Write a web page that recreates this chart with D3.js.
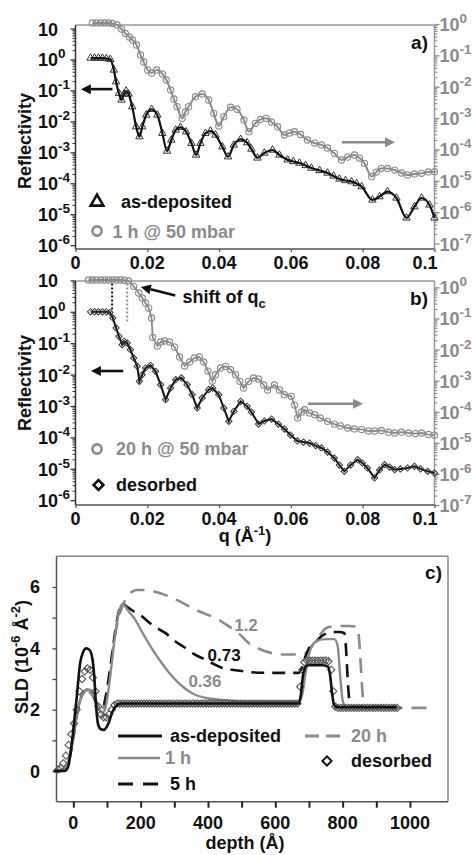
<!DOCTYPE html>
<html><head><meta charset="utf-8">
<script src="https://cdnjs.cloudflare.com/ajax/libs/d3/7.8.5/d3.min.js"></script>
<style>
html,body{margin:0;padding:0;background:#fff;}
svg{display:block;font-family:"Liberation Sans",Arial,Helvetica,sans-serif;font-weight:bold;}
</style></head><body>
<svg id="chart" width="472" height="855"></svg>
<script>
// ===== Panel a: [q (1/Å), reflectivity] =====
const asDeposited = [[0.0042,1.11],[0.0053,1.11],[0.0064,1.11],[0.0075,1.11],[0.0086,1.07],[0.0097,1.01],[0.0107,0.457],[0.0113,0.191],[0.0121,0.0807],[0.0128,0.0491],[0.0135,0.0766],[0.0141,0.0957],[0.0148,0.0766],[0.0158,0.0298],[0.0169,0.00673],[0.0178,0.0032],[0.0186,0.00673],[0.0197,0.0161],[0.0212,0.0245],[0.0228,0.0161],[0.0242,0.00412],[0.0255,0.0011],[0.0267,0.0025],[0.0279,0.00527],[0.0292,0.00644],[0.0308,0.00464],[0.0323,0.00196],[0.0336,0.00082],[0.0348,0.00196],[0.0362,0.00412],[0.0376,0.00489],[0.0390,0.00363],[0.0409,0.00152],[0.0425,0.00072],[0.0441,0.00173],[0.0460,0.00264],[0.0478,0.00205],[0.0490,0.00128],[0.0507,0.00066],[0.0526,0.00095],[0.0549,0.00119],[0.0568,0.00082],[0.0591,0.00057],[0.0607,0.000506],[0.0624,0.00045],[0.0641,0.000376],[0.0657,0.00031],[0.0680,0.000259],[0.0702,0.000215],[0.0719,0.000172],[0.0735,0.000138],[0.0752,0.000123],[0.0769,0.000113],[0.0783,0.0000986],[0.0797,0.000078],[0.0827,0.000029],[0.0847,0.000037],[0.0869,0.000054],[0.0894,0.0000335],[0.0922,0.0000076],[0.0944,0.0000175],[0.0964,0.0000335],[0.0986,0.00002],[0.1000,0.0000076]];
const oneHour50mbar = [[0.0047,1.08],[0.0058,1.08],[0.0070,1.08],[0.0081,1.08],[0.0092,1.08],[0.0103,1.04],[0.0116,0.93],[0.0128,0.69],[0.0139,0.50],[0.0150,0.385],[0.0159,0.309],[0.0170,0.214],[0.0181,0.103],[0.0190,0.0614],[0.0201,0.0341],[0.0212,0.0274],[0.0226,0.0341],[0.0242,0.0255],[0.0253,0.0164],[0.0265,0.00786],[0.0274,0.00406],[0.0283,0.00231],[0.0297,0.00098],[0.0306,0.00156],[0.0315,0.00231],[0.0334,0.00481],[0.0353,0.00586],[0.0371,0.00377],[0.0385,0.00142],[0.0399,0.000558],[0.0413,0.00111],[0.0432,0.00221],[0.0450,0.00191],[0.0469,0.00087],[0.0483,0.000368],[0.0501,0.000682],[0.0515,0.000901],[0.0531,0.00098],[0.0546,0.00075],[0.0563,0.00053],[0.0582,0.000289],[0.0596,0.000334],[0.0610,0.000368],[0.0627,0.000299],[0.0646,0.0002],[0.0666,0.00016],[0.0685,0.000139],[0.0702,0.000111],[0.0721,0.000075],[0.0741,0.000046],[0.0758,0.000057],[0.0777,0.0000665],[0.0791,0.000053],[0.0805,0.000036],[0.0825,0.0000135],[0.0838,0.000019],[0.0852,0.000025],[0.0869,0.0000247],[0.0889,0.000022],[0.0908,0.0000177],[0.0925,0.0000153],[0.0944,0.0000165],[0.0964,0.0000173],[0.0983,0.0000191],[0.1000,0.0000195]];
// ===== Panel b =====
const twentyHour50mbar = [[0.0036,1.73],[0.0047,1.73],[0.0058,1.73],[0.0070,1.73],[0.0081,1.73],[0.0092,1.73],[0.0103,1.73],[0.0114,1.73],[0.0125,1.73],[0.0136,1.7],[0.0148,1.61],[0.0162,1.08],[0.0176,0.66],[0.0186,0.456],[0.0195,0.315],[0.0204,0.217],[0.0212,0.1036],[0.0215,0.0248],[0.0228,0.01303],[0.0237,0.0175],[0.0248,0.01885],[0.0262,0.0175],[0.0276,0.01208],[0.0290,0.00576],[0.0304,0.00296],[0.0318,0.00398],[0.0331,0.00535],[0.0345,0.00576],[0.0357,0.00398],[0.0369,0.00204],[0.0381,0.00097],[0.0390,0.00155],[0.0404,0.00255],[0.0418,0.00289],[0.0432,0.00225],[0.0446,0.00155],[0.0458,0.00095],[0.0468,0.00058],[0.0482,0.00095],[0.0496,0.00122],[0.0510,0.00113],[0.0524,0.000724],[0.0535,0.0005],[0.0554,0.000724],[0.0568,0.0005],[0.0582,0.000353],[0.0601,0.000313],[0.0610,0.000164],[0.0619,0.000063],[0.0630,0.000098],[0.0638,0.000116],[0.0652,0.000091],[0.0666,0.00008],[0.0682,0.000063],[0.0702,0.000049],[0.0721,0.00004],[0.0738,0.000035],[0.0758,0.00003],[0.0777,0.000028],[0.0797,0.000027],[0.0816,0.000024],[0.0833,0.000024],[0.0852,0.000025],[0.0872,0.000022],[0.0889,0.0000207],[0.0908,0.000022],[0.0928,0.0000207],[0.0947,0.0000199],[0.0964,0.0000207],[0.0983,0.0000185],[0.1000,0.0000178]];
const desorbed = [[0.0042,1.0],[0.0053,1.0],[0.0064,1.0],[0.0075,1.0],[0.0086,1.0],[0.0096,0.95],[0.0104,0.635],[0.0113,0.305],[0.0121,0.166],[0.0130,0.0896],[0.0135,0.115],[0.0144,0.1014],[0.0153,0.0621],[0.0162,0.0338],[0.0172,0.01837],[0.0178,0.00612],[0.0186,0.00993],[0.0195,0.01622],[0.0209,0.01977],[0.0223,0.01274],[0.0237,0.00477],[0.0251,0.00159],[0.0265,0.00374],[0.0279,0.00689],[0.0295,0.0078],[0.0311,0.00477],[0.0325,0.00229],[0.0339,0.000864],[0.0353,0.0018],[0.0371,0.0033],[0.0382,0.00374],[0.0399,0.00229],[0.0413,0.000864],[0.0427,0.000326],[0.0441,0.000678],[0.0460,0.00141],[0.0478,0.00098],[0.0490,0.000644],[0.0510,0.000267],[0.0526,0.000333],[0.0546,0.000385],[0.0565,0.000267],[0.0582,0.000185],[0.0599,0.000119],[0.0618,0.000077],[0.0635,0.000071],[0.0652,0.000066],[0.0669,0.000055],[0.0685,0.000046],[0.0702,0.000034],[0.0721,0.000022],[0.0735,0.0000132],[0.0749,0.0000083],[0.0766,0.0000132],[0.0786,0.0000195],[0.0799,0.0000153],[0.0813,0.0000106],[0.0833,0.0000051],[0.0847,0.0000092],[0.0861,0.0000135],[0.0875,0.0000114],[0.0889,0.0000094],[0.0905,0.0000099],[0.0925,0.0000106],[0.0944,0.000012],[0.0961,0.0000099],[0.0981,0.0000083],[0.1000,0.0000073]];
const qcDesorbed = 0.0102, qc20h = 0.0144;
// ===== Panel c: [depth (Å), SLD (1e-6 Å^-2)] =====
const sldAsDeposited = [[-58,0],[-25,0],[-15,0.15],[-8,0.6],[0,1.35],[10,2.4],[20,3.5],[30,3.9],[38,4.0],[48,3.95],[56,3.7],[62,3.1],[67,2.2],[74,1.5],[82,1.36],[90,1.34],[98,1.42],[106,1.6],[115,1.9],[125,2.1],[140,2.2],[160,2.2],[670,2.2],[676,2.5],[682,3.1],[690,3.4],[700,3.45],[740,3.45],[757,3.4],[763,3.1],[769,2.5],[775,2.15],[785,2.08],[960,2.08]];
const sld1h = [[-58,0],[-40,0],[-30,0.05],[-20,0.2],[-10,0.5],[0,1.1],[10,1.8],[20,2.3],[30,2.55],[40,2.65],[50,2.65],[60,2.5],[70,2.2],[80,1.95],[88,1.9],[96,2.1],[105,2.7],[115,3.6],[125,4.5],[135,5.15],[145,5.45],[155,5.35],[165,5.2],[183,4.95],[203,4.55],[223,4.18],[243,3.83],[262,3.53],[282,3.24],[302,2.99],[322,2.78],[342,2.61],[365,2.47],[391,2.39],[441,2.32],[500,2.27],[670,2.25],[680,2.5],[690,3.2],[700,3.8],[710,4.1],[725,4.25],[750,4.3],[775,4.3],[785,4.1],[792,3.2],[800,2.3],[810,2.1],[960,2.1]];
const sld5h = [[-58,0],[-40,0],[-30,0.05],[-20,0.2],[-10,0.5],[0,1.1],[10,1.8],[20,2.3],[30,2.55],[40,2.65],[50,2.6],[60,2.45],[70,2.2],[80,2.0],[88,2.05],[96,2.4],[105,3.0],[115,3.8],[125,4.6],[135,5.2],[145,5.45],[160,5.35],[180,5.2],[203,5.05],[230,4.8],[250,4.65],[272,4.51],[300,4.25],[332,4.02],[360,3.8],[391,3.64],[415,3.5],[441,3.37],[470,3.3],[500,3.26],[525,3.22],[600,3.2],[670,3.2],[680,3.4],[690,3.75],[700,4.0],[718,4.18],[738,4.4],[755,4.5],[770,4.53],[790,4.53],[805,4.5],[810,4.0],[815,3.0],[820,2.3],[826,2.1],[960,2.1]];
const sld20h = [[-58,0],[-40,0],[-30,0.05],[-20,0.2],[-10,0.5],[0,1.1],[10,1.8],[20,2.3],[30,2.55],[40,2.6],[50,2.55],[60,2.4],[70,2.15],[80,2.0],[88,2.05],[96,2.4],[105,3.0],[115,3.8],[125,4.5],[135,5.0],[145,5.35],[155,5.6],[165,5.75],[175,5.85],[190,5.9],[210,5.9],[240,5.85],[270,5.75],[302,5.6],[330,5.45],[361,5.27],[390,5.13],[421,5.0],[460,4.73],[490,4.5],[525,4.13],[555,3.97],[584,3.86],[615,3.8],[644,3.8],[670,3.82],[693,3.86],[710,4.1],[730,4.4],[753,4.67],[775,4.72],[801,4.73],[820,4.73],[842,4.7],[848,4.4],[853,3.6],[858,2.7],[862,2.2],[870,2.06],[1075,2.06]];
const sldDesorbed = [[-45,0.05],[-38,0.1],[-30,0.25],[-22,0.5],[-14,0.85],[-6,1.2],[2,1.55],[10,2.0],[18,2.6],[26,3.0],[34,3.25],[42,3.35],[50,3.3],[58,3.05],[66,2.6],[74,2.1],[82,1.85],[90,1.75],[98,1.75],[106,1.85],[114,2.0],[122,2.15],
[130,2.2],[138,2.2],[146,2.2],[154,2.2],[162,2.2],[170,2.2],[178,2.2],[186,2.2],[194,2.2],[202,2.2],[210,2.2],[218,2.2],[226,2.2],[234,2.2],[242,2.2],[250,2.2],[258,2.2],[266,2.2],[274,2.2],[282,2.2],[290,2.2],[298,2.2],[306,2.2],[314,2.2],[322,2.2],[330,2.2],[338,2.2],[346,2.2],[354,2.2],[362,2.2],[370,2.2],[378,2.2],[386,2.2],[394,2.2],[402,2.2],[410,2.2],[418,2.2],[426,2.2],[434,2.2],[442,2.2],[450,2.2],[458,2.2],[466,2.2],[474,2.2],[482,2.2],[490,2.2],[498,2.2],[506,2.2],[514,2.2],[522,2.2],[530,2.2],[538,2.2],[546,2.2],[554,2.2],[562,2.2],[570,2.2],[578,2.2],[586,2.2],[594,2.2],[602,2.2],[610,2.2],[618,2.2],[626,2.2],[634,2.2],[642,2.2],[650,2.2],[658,2.2],[666,2.2],
[674,2.75],[680,3.3],[686,3.55],[694,3.6],[702,3.6],[710,3.6],[718,3.6],[726,3.6],[734,3.6],[742,3.6],[750,3.6],[758,3.58],[766,3.3],[772,2.6],
[778,2.1],[786,2.06],[794,2.06],[802,2.06],[810,2.06],[818,2.06],[826,2.06],[834,2.06],[842,2.06],[850,2.06],[858,2.06],[866,2.06],[874,2.06],[882,2.06],[890,2.06],[898,2.06],[906,2.06],[914,2.06],[922,2.06],[930,2.06],[938,2.06],[946,2.06],[954,2.06],[962,2.06]];
const sldLabels = [{t:"1.2",d:513,v:4.76,c:"gray"},{t:"0.73",d:448,v:3.78,c:"black"},{t:"0.36",d:391,v:2.93,c:"gray"}];
// ===== Tick definitions =====
const qTicks = [0,0.02,0.04,0.06,0.08,0.1];
const qTickLabels = ["0","0.02","0.04","0.06","0.08","0.1"];
const leftDecades = [1,0,-1,-2,-3,-4,-5,-6];
const rightDecades = [0,-1,-2,-3,-4,-5,-6,-7];
const depthTicks = [0,200,400,600,800,1000];
const depthMinorTicks = [0,100,200,300,400,500,600,700,800,900,1000];
const sldTicks = [0,2,4,6];
const sldMinorTicks = [0,1,2,3,4,5,6];

const BLACK = "#111", GRAY = "#8a8a8a";
const svg = d3.select("#chart");

const xQ = d3.scaleLinear().domain([0,0.1]).range([75.5,434.5]);
const yAL = d3.scaleLog().domain([1e-6,10]).range([245.2,28.5]);
const yAR = d3.scaleLog().domain([1e-7,1]).range([243.5,24]);
const yBL = d3.scaleLog().domain([1e-6,10]).range([500.2,280.4]);
const yBR = d3.scaleLog().domain([1e-7,1]).range([505,287.4]);
const xD = d3.scaleLinear().domain([-50,1113]).range([56.5,448]);
const yS = d3.scaleLinear().domain([-1,7]).range([801.7,556.3]);

function supText(g, x, y, parts, opt={}) {
  const t = g.append("text").attr("x",x).attr("y",y)
    .attr("font-size",opt.size||18).attr("fill",opt.fill||BLACK)
    .attr("text-anchor",opt.anchor||"start");
  if (opt.transform) t.attr("transform",opt.transform);
  const rise = opt.rise||8;
  let shift = 0;
  parts.forEach(p => {
    const ts = t.append("tspan").text(p.t);
    if (p.sup) { ts.attr("font-size",opt.supSize||14).attr("dy",-rise-shift); shift = -rise; }
    else if (p.sub) { ts.attr("font-size",opt.supSize||13).attr("dy",5-shift); shift = 5; }
    else { if (shift) ts.attr("dy",-shift); shift = 0; }
  });
  return t;
}
function decadeLabel(e){ return e===1 ? [{t:"10"}] : [{t:"10"},{t:(e<0?"-":"")+Math.abs(e),sup:true}]; }
function minorValues(lo,hi){ const v=[]; for(let e=lo;e<hi;e++) for(let m=2;m<=9;m++) v.push(m*Math.pow(10,e)); return v; }

function logAxis(g, scale, x, side, decades, color) {
  const fn = side==="left" ? d3.axisLeft : d3.axisRight;
  const lo = d3.min(decades), hi = d3.max(decades);
  g.append("g").attr("transform",`translate(${x},0)`)
    .call(fn(scale).tickValues(decades.map(e=>Math.pow(10,e))).tickSize(5).tickFormat(""))
    .call(s=>s.select(".domain").remove())
    .call(s=>s.selectAll("line").attr("stroke",color).attr("stroke-width",1.3));
  g.append("g").attr("transform",`translate(${x},0)`)
    .call(fn(scale).tickValues(minorValues(lo,hi)).tickSize(3).tickFormat(""))
    .call(s=>s.select(".domain").remove())
    .call(s=>s.selectAll("line").attr("stroke",color).attr("stroke-width",1));
  decades.forEach(e=>{
    const lx = side==="left" ? 38 : 439.5;
    supText(g, lx, scale(Math.pow(10,e))+7, decadeLabel(e), {fill: side==="left"?BLACK:GRAY, supSize:13.5});
  });
}

function arrow(g, x1,y1,x2,y2,color) {
  const ang = Math.atan2(y2-y1,x2-x1), L=10, W=5;
  const bx = x2-L*Math.cos(ang), by = y2-L*Math.sin(ang);
  g.append("line").attr("x1",x1).attr("y1",y1).attr("x2",bx).attr("y2",by)
    .attr("stroke",color).attr("stroke-width",2.6);
  const px = -Math.sin(ang)*W, py = Math.cos(ang)*W;
  g.append("path").attr("d",`M${x2},${y2}L${bx+px},${by+py}L${bx-px},${by-py}Z`).attr("fill",color);
}

function reflPanel(cfg) {
  const g = svg.append("g");
  const {top,bottom,yL,yR} = cfg;
  const x0 = xQ.range()[0], x1 = xQ.range()[1];
  g.append("line").attr("x1",x0).attr("x2",x1).attr("y1",top).attr("y2",top).attr("stroke","#999").attr("stroke-width",1.5);
  g.append("line").attr("x1",x1).attr("x2",x1).attr("y1",top).attr("y2",bottom).attr("stroke","#999").attr("stroke-width",1.5);
  g.append("line").attr("x1",x0).attr("x2",x0).attr("y1",top).attr("y2",bottom).attr("stroke","#333").attr("stroke-width",1.5);
  g.append("line").attr("x1",x0).attr("x2",x1).attr("y1",bottom).attr("y2",bottom).attr("stroke","#555").attr("stroke-width",1.5);
  logAxis(g, yL, x0, "left", leftDecades, "#333");
  logAxis(g, yR, x1, "right", rightDecades, GRAY);
  g.append("g").attr("transform",`translate(0,${bottom})`)
    .call(d3.axisBottom(xQ).tickValues(qTicks).tickSize(3).tickFormat(""))
    .call(s=>s.select(".domain").remove())
    .call(s=>s.selectAll("line").attr("stroke","#555").attr("stroke-width",1.3));
  qTicks.forEach((q,i)=>{
    const last = i===qTicks.length-1;
    g.append("text").attr("x", last ? xQ(q)+3 : xQ(q)).attr("y",bottom+19.5)
      .attr("text-anchor", last ? "end" : "middle").attr("font-size",18).attr("fill",BLACK).text(qTickLabels[i]);
  });
  g.append("text").attr("transform",`translate(25,${cfg.titleY}) rotate(-90)`).attr("text-anchor","middle")
    .attr("dy","0.35em").attr("font-size",18).attr("fill",BLACK).text("Reflectivity");
  g.append("text").attr("x",428).attr("y",top+24).attr("text-anchor","end").attr("font-size",19).attr("fill",BLACK).text(cfg.letter);
  return g;
}

// ---------- Panel a ----------
const gA = reflPanel({top:25,bottom:249,yL:yAL,yR:yAR,titleY:141,letter:"a)"});
gA.selectAll(null).data(oneHour50mbar).join("circle")
  .attr("cx",d=>xQ(d[0])).attr("cy",d=>yAR(d[1])).attr("r",3.1)
  .attr("fill","none").attr("stroke",GRAY).attr("stroke-width",1.1);
gA.append("path").datum(oneHour50mbar)
  .attr("d",d3.line().x(d=>xQ(d[0])).y(d=>yAR(d[1])).curve(d3.curveMonotoneX))
  .attr("fill","none").attr("stroke",GRAY).attr("stroke-width",2);
gA.selectAll(null).data(asDeposited).join("path")
  .attr("d",d3.symbol(d3.symbolTriangle,24))
  .attr("transform",d=>`translate(${xQ(d[0])},${yAL(d[1])})`)
  .attr("fill","none").attr("stroke","#333").attr("stroke-width",1);
gA.append("path").datum(asDeposited)
  .attr("d",d3.line().x(d=>xQ(d[0])).y(d=>yAL(d[1])).curve(d3.curveMonotoneX))
  .attr("fill","none").attr("stroke",BLACK).attr("stroke-width",2.2);
arrow(gA, xQ(0.0103), yAL(0.11), xQ(0.0015), yAL(0.11), BLACK);
arrow(gA, xQ(0.0742), yAR(1.7e-4), xQ(0.0890), yAR(1.7e-4), GRAY);
gA.append("path").attr("d",d3.symbol(d3.symbolTriangle,70)).attr("transform","translate(97,202)")
  .attr("fill","none").attr("stroke",BLACK).attr("stroke-width",2.6);
gA.append("text").attr("x",121).attr("y",207.5).attr("font-size",18).attr("fill",BLACK).text("as-deposited");
gA.append("circle").attr("cx",97).attr("cy",231).attr("r",4.6).attr("fill","none").attr("stroke",GRAY).attr("stroke-width",2.6);
gA.append("text").attr("x",112.5).attr("y",237.5).attr("font-size",18).attr("fill",GRAY).text("1 h @ 50 mbar");

// ---------- Panel b ----------
const gB = reflPanel({top:281,bottom:505,yL:yBL,yR:yBR,titleY:383,letter:"b)"});
gB.append("line").attr("x1",xQ(qcDesorbed)).attr("x2",xQ(qcDesorbed)).attr("y1",yBL(8)).attr("y2",yBL(1))
  .attr("stroke",BLACK).attr("stroke-width",2).attr("stroke-dasharray","2,2");
gB.append("line").attr("x1",xQ(qc20h)).attr("x2",xQ(qc20h)).attr("y1",yBL(8)).attr("y2",yBL(0.5))
  .attr("stroke",GRAY).attr("stroke-width",2).attr("stroke-dasharray","2,2");
gB.append("path").datum(twentyHour50mbar)
  .attr("d",d3.line().x(d=>xQ(d[0])).y(d=>yBR(d[1])))
  .attr("fill","none").attr("stroke",GRAY).attr("stroke-width",1.8);
gB.selectAll(null).data(twentyHour50mbar).join("circle")
  .attr("cx",d=>xQ(d[0])).attr("cy",d=>yBR(d[1])).attr("r",3.1)
  .attr("fill","none").attr("stroke",GRAY).attr("stroke-width",1.1);
gB.append("path").datum(desorbed)
  .attr("d",d3.line().x(d=>xQ(d[0])).y(d=>yBL(d[1])))
  .attr("fill","none").attr("stroke",BLACK).attr("stroke-width",2);
gB.selectAll(null).data(desorbed).join("path")
  .attr("d",d3.symbol(d3.symbolSquare,20))
  .attr("transform",d=>`translate(${xQ(d[0])},${yBL(d[1])}) rotate(45)`)
  .attr("fill","none").attr("stroke","#333").attr("stroke-width",1);
arrow(gB, xQ(0.0133), yBL(0.013), xQ(0.0043), yBL(0.013), BLACK);
arrow(gB, xQ(0.0648), yBR(1.8e-4), xQ(0.0801), yBR(1.8e-4), GRAY);
arrow(gB, xQ(0.0278), yBL(3.3), xQ(0.0182), yBL(6.2), BLACK);
supText(gB, xQ(0.0298), 303, [{t:"shift of q"},{t:"c",sub:true}], {supSize:13});
gB.append("circle").attr("cx",97).attr("cy",449).attr("r",4.6).attr("fill","none").attr("stroke",GRAY).attr("stroke-width",2.6);
gB.append("text").attr("x",116).attr("y",455).attr("font-size",18).attr("fill",GRAY).text("20 h @ 50 mbar");
gB.append("path").attr("d",d3.symbol(d3.symbolSquare,48)).attr("transform","translate(98.5,485) rotate(45)")
  .attr("fill","none").attr("stroke",BLACK).attr("stroke-width",2.6);
gB.append("text").attr("x",116).attr("y",491).attr("font-size",18).attr("fill",BLACK).text("desorbed");
supText(gB, 245, 542, [{t:"q (\u00C5"},{t:"-1",sup:true},{t:")"}], {anchor:"middle", supSize:13, rise:7});

// ---------- Panel c ----------
const gC = svg.append("g");
{
  const x0 = xD.range()[0], x1 = xD.range()[1], top = 556.3, bottom = 801.7;
  gC.append("line").attr("x1",x0).attr("x2",x1).attr("y1",top).attr("y2",top).attr("stroke","#888").attr("stroke-width",1.5);
  gC.append("line").attr("x1",x1).attr("x2",x1).attr("y1",top).attr("y2",bottom).attr("stroke","#888").attr("stroke-width",1.5);
  gC.append("line").attr("x1",x0).attr("x2",x0).attr("y1",top).attr("y2",bottom).attr("stroke","#555").attr("stroke-width",1.5);
  gC.append("line").attr("x1",x0).attr("x2",x1).attr("y1",bottom).attr("y2",bottom).attr("stroke","#555").attr("stroke-width",1.5);
  gC.append("g").attr("transform",`translate(0,${bottom})`)
    .call(d3.axisBottom(xD).tickValues(depthMinorTicks).tickSize(6).tickFormat(""))
    .call(s=>s.select(".domain").remove())
    .call(s=>s.selectAll("line").attr("stroke","#222").attr("stroke-width",2));
  gC.append("g").attr("transform",`translate(${x0},0)`)
    .call(d3.axisLeft(yS).tickValues(sldMinorTicks).tickSize(4).tickFormat(""))
    .call(s=>s.select(".domain").remove())
    .call(s=>s.selectAll("line").attr("stroke","#444").attr("stroke-width",1.3));
  depthTicks.forEach(d=>gC.append("text").attr("x",xD(d)).attr("y",828.5).attr("text-anchor","middle")
    .attr("font-size",18).attr("fill",BLACK).text(d));
  sldTicks.forEach(v=>gC.append("text").attr("x",40).attr("y",yS(v)+6.5).attr("text-anchor","end")
    .attr("font-size",18).attr("fill",BLACK).text(v));
  gC.append("text").attr("x",245).attr("y",849).attr("text-anchor","middle").attr("font-size",18).attr("fill",BLACK).text("depth (\u00C5)");
  supText(gC, 0, 0, [{t:"SLD (10"},{t:"-6",sup:true},{t:" \u00C5"},{t:"-2",sup:true},{t:")"}],
    {anchor:"middle", supSize:13, transform:"translate(28,657) rotate(-90)"});
  gC.append("text").attr("x",442).attr("y",579).attr("text-anchor","end").attr("font-size",19).attr("fill",BLACK).text("c)");

  const ln = d3.line().x(d=>xD(d[0])).y(d=>yS(d[1])).curve(d3.curveMonotoneX);
  gC.append("path").datum(sld20h).attr("d",ln).attr("fill","none").attr("stroke",GRAY).attr("stroke-width",2.6).attr("stroke-dasharray","15,9");
  gC.append("path").datum(sld5h).attr("d",ln).attr("fill","none").attr("stroke",BLACK).attr("stroke-width",2.6).attr("stroke-dasharray","13,8");
  gC.append("path").datum(sld1h).attr("d",ln).attr("fill","none").attr("stroke",GRAY).attr("stroke-width",2.4);
  gC.selectAll(null).data(sldDesorbed).join("path")
    .attr("d",d3.symbol(d3.symbolSquare,26))
    .attr("transform",d=>`translate(${xD(d[0])},${yS(d[1])}) rotate(45)`)
    .attr("fill","none").attr("stroke","#555").attr("stroke-width",1.1);
  gC.append("path").datum(sldAsDeposited).attr("d",ln).attr("fill","none").attr("stroke",BLACK).attr("stroke-width",2.6);
  sldLabels.forEach(l=>gC.append("text").attr("x",xD(l.d)).attr("y",yS(l.v)+6).attr("text-anchor","middle")
    .attr("font-size",17).attr("fill",l.c==="gray"?GRAY:BLACK).text(l.t));
  gC.append("line").attr("x1",118).attr("x2",162).attr("y1",736).attr("y2",736).attr("stroke",BLACK).attr("stroke-width",2.8);
  gC.append("text").attr("x",170).attr("y",742).attr("font-size",18).attr("fill",BLACK).text("as-deposited");
  gC.append("line").attr("x1",118).attr("x2",160).attr("y1",758).attr("y2",758).attr("stroke",GRAY).attr("stroke-width",2.6);
  gC.append("text").attr("x",165).attr("y",764).attr("font-size",18).attr("fill",GRAY).text("1 h");
  gC.append("line").attr("x1",118).attr("x2",162).attr("y1",784).attr("y2",784).attr("stroke",BLACK).attr("stroke-width",2.8).attr("stroke-dasharray","15,10");
  gC.append("text").attr("x",170).attr("y",790).attr("font-size",18).attr("fill",BLACK).text("5 h");
  gC.append("line").attr("x1",305).attr("x2",346).attr("y1",736).attr("y2",736).attr("stroke",GRAY).attr("stroke-width",2.8).attr("stroke-dasharray","14,7");
  gC.append("text").attr("x",351).attr("y",742).attr("font-size",18).attr("fill",GRAY).text("20 h");
  gC.append("path").attr("d",d3.symbol(d3.symbolSquare,42)).attr("transform","translate(327,761) rotate(45)")
    .attr("fill","none").attr("stroke",BLACK).attr("stroke-width",2);
  gC.append("text").attr("x",351).attr("y",767).attr("font-size",18).attr("fill",BLACK).text("desorbed");
}
</script>
</body></html>
